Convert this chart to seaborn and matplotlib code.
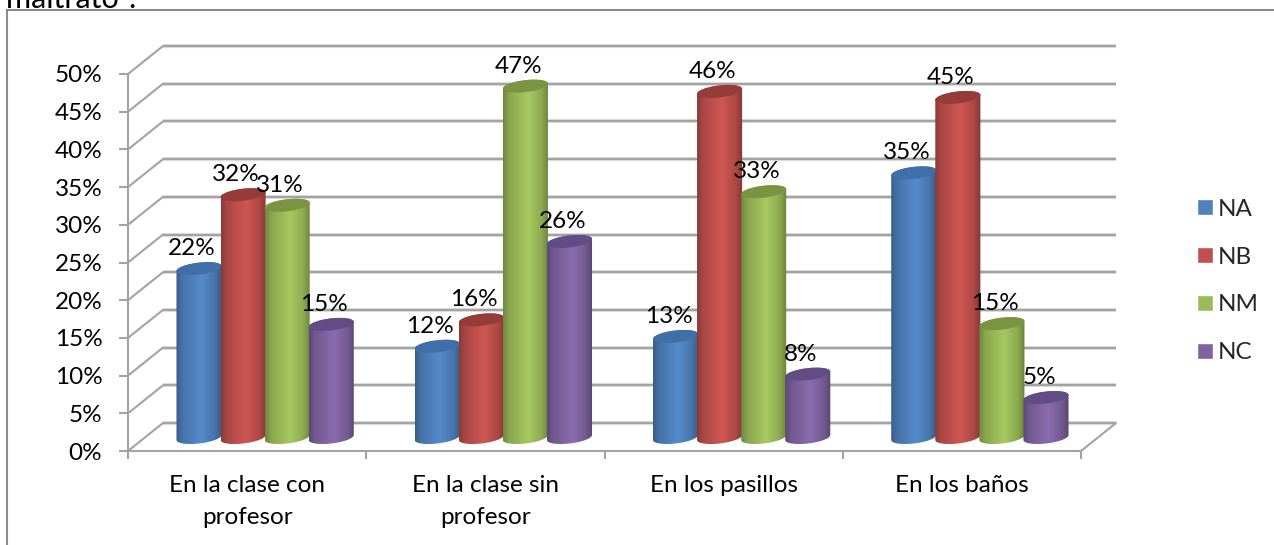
import numpy as np
import pandas as pd
import matplotlib
matplotlib.use('Agg')
import matplotlib.pyplot as plt
import seaborn as sns
from matplotlib.lines import Line2D
from matplotlib.patches import Polygon

categories = ['En la clase con\nprofesor', 'En la clase sin\nprofesor', 'En los pasillos', 'En los baños']
series_names = ['NA', 'NB', 'NM', 'NC']
na_values = [22.4, 12.1, 13.4, 35.1]
nb_values = [32.2, 15.6, 45.9, 45.1]
nm_values = [30.8, 46.6, 32.6, 15.1]
nc_values = [15.0, 26.0, 8.4, 5.3]
y_ticks = [0, 5, 10, 15, 20, 25, 30, 35, 40, 45, 50]

colors = ['#4F81BD', '#C0504D', '#9BBB59', '#8064A2']
top_colors = ['#3F6EA8', '#953C39', '#7A9441', '#634C85']
grid_color = '#A3A3A3'

W, H = 1274, 545
sns.set_theme(style='white')
plt.rcParams['font.family'] = ['Lato', 'DejaVu Sans']

df = pd.DataFrame({
    'lugar': categories * 4,
    'nivel': [s for s in series_names for _ in categories],
    'valor': na_values + nb_values + nm_values + nc_values,
})

fig = plt.figure(figsize=(W / 100, H / 100), dpi=100)
ax = fig.add_axes([128 / W, 1 - 451 / H, 953 / W, 377 / H])

sns.barplot(data=df, x='lugar', y='valor', hue='nivel', hue_order=series_names,
            palette=colors, saturation=1, width=0.74, gap=0, errorbar=None, ax=ax)
ax.set_xlim(-0.5, 3.5)
ax.set_ylim(0, 50)
ax.set_xlabel('')
ax.set_ylabel('')

# pixel sizes turned into data units, for the fake 3D depth
px_x = 4 / 953
px_y = 50 / 377
back_x = 35 * px_x
back_y = 28 * px_y

# back wall and side wall
for v in y_ticks:
    ax.plot([-0.5 + back_x, 3.5 + back_x], [v + back_y, v + back_y], color='#DEDEDE', lw=3,
            clip_on=False, zorder=1, solid_capstyle='butt')
    ax.plot([-0.5 + back_x, 3.5 + back_x], [v + back_y, v + back_y], color=grid_color, lw=1.5,
            clip_on=False, zorder=1.1, solid_capstyle='butt')
    ax.plot([-0.5, -0.5 + back_x], [v, v + back_y], color=grid_color, lw=1.5, clip_on=False, zorder=1.1)
ax.plot([3.5, 3.5 + back_x], [0, back_y], color=grid_color, lw=1.5, clip_on=False, zorder=1.1)

# cylinders on top of the flat seaborn bars
shift = 17.5 * px_x
base = 13.5 * px_y
ell_h = 12 * px_y
tilt = 2.5 * px_y
t_low = np.linspace(np.pi, 2 * np.pi, 40)
t_high = np.linspace(0, np.pi, 40)
t_all = np.linspace(0, 2 * np.pi, 80)
stops = np.array([0, 0.12, 0.55, 0.85, 1])
shade = np.array([0.72, 0.88, 1.08, 0.90, 0.70])
pos = np.linspace(0, 1, 60)
order = 3

for i, cont in enumerate(ax.containers):
    rgb = np.array(matplotlib.colors.to_rgb(colors[i]))
    grad = np.clip(np.outer(np.interp(pos, stops, shade), rgb), 0, 1)[np.newaxis, :, :]
    for bar in cont:
        x0 = bar.get_x() + shift
        w = bar.get_width() + 1 * px_x
        val = bar.get_height()
        bar.set_visible(False)
        cx = x0 + w / 2
        y0 = base
        y1 = base + val
        low = np.c_[cx + w / 2 * np.cos(t_low), y0 + ell_h / 2 * np.sin(t_low) + tilt * np.cos(t_low)]
        high = np.c_[cx + w / 2 * np.cos(t_high), y1 + ell_h / 2 * np.sin(t_high) + tilt * np.cos(t_high)]
        body = Polygon(np.vstack([low, high]), closed=True, transform=ax.transData, fc='none', ec='none')
        ax.add_patch(body)
        im = ax.imshow(grad, extent=[x0, x0 + w, y0 - ell_h, y1 + ell_h], aspect='auto',
                       interpolation='bilinear', zorder=order, clip_on=True)
        im.set_clip_path(body)
        cap = np.c_[cx + w / 2 * np.cos(t_all), y1 + ell_h / 2 * np.sin(t_all) + tilt * np.cos(t_all)]
        ax.add_patch(Polygon(cap, closed=True, fc=top_colors[i], ec='none', zorder=order + 0.1, clip_on=False))
        ax.annotate(f'{val:.0f}%', (cx, y1), xytext=(-7 * 0.72, 20 * 0.72), textcoords='offset points',
                    ha='center', va='center', fontsize=17.5, color='black', zorder=20, annotation_clip=False)
        order += 0.2

ax.set_xlim(-0.5, 3.5)
ax.set_ylim(0, 50)

# axes, ticks
sns.despine(ax=ax, top=True, right=True)
for side in ['left', 'bottom']:
    ax.spines[side].set_color(grid_color)
    ax.spines[side].set_linewidth(1.5)
ax.set_yticks(y_ticks)
ax.set_yticklabels([f'{v}%' for v in y_ticks])
ax.set_xticks(range(len(categories)))
ax.set_xticklabels(categories, linespacing=1.65)
ax.set_xticks([-0.5, 0.5, 1.5, 2.5, 3.5], minor=True)
ax.tick_params(axis='y', left=True, length=6.5, width=1.5, color=grid_color, pad=12, labelsize=17.5, labelcolor='black')
ax.tick_params(axis='x', which='major', bottom=False, length=0, pad=17.5, labelsize=17.5, labelcolor='black')
ax.tick_params(axis='x', which='minor', bottom=True, length=6, width=1.5, color=grid_color)

sns.move_legend(ax, loc='center left', bbox_to_anchor=(1185 / W, 1 - 281 / H), bbox_transform=fig.transFigure,
                title=None, frameon=False, fontsize=17.5, handlelength=0.64, handleheight=0.64,
                handletextpad=0.22, labelspacing=1.1, borderpad=0)

# frame of the chart and the clipped line of text above it
frame = dict(color='#8C8C8C', lw=1.5, transform=fig.transFigure)
fig.add_artist(Line2D([7 / W, 7 / W], [0, 1 - 10 / H], **frame))
fig.add_artist(Line2D([7 / W, 1], [1 - 10 / H, 1 - 10 / H], **frame))
fig.text(6 / W, 1 - 8 / H, 'maltrato ?', fontsize=22, color='black', va='baseline', ha='left')

fig.savefig('out.png', dpi=100)
